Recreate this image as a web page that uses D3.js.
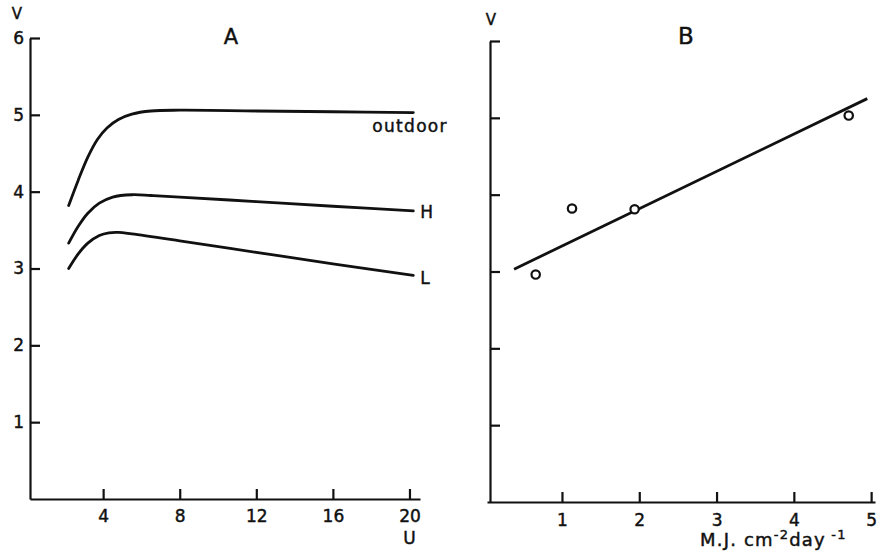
<!DOCTYPE html>
<html><head><meta charset="utf-8">
<script src="https://cdn.jsdelivr.net/npm/d3@7"></script>
<style>
html,body{margin:0;padding:0;background:#fff;}
svg text{font-family:"DejaVu Sans","Liberation Sans",sans-serif;fill:#111;stroke:#111;stroke-width:0.45px;}
</style></head>
<body><svg id="c" width="882" height="551"></svg>
<script>
// ---- Data (panel A: V vs U) ----
const outdoorU = [2.2, 2.7, 3.2, 3.7, 4.2, 4.8, 5.5, 6.5, 8, 12, 16, 20.2];
const outdoorV = [3.82, 4.15, 4.45, 4.68, 4.83, 4.94, 5.01, 5.05, 5.06, 5.05, 5.04, 5.03];
const hU = [2.2, 2.7, 3.2, 3.8, 4.5, 5.5, 6.5, 8, 12, 16, 20.2];
const hV = [3.33, 3.55, 3.72, 3.85, 3.93, 3.96, 3.95, 3.93, 3.87, 3.81, 3.75];
const lU = [2.2, 2.7, 3.2, 3.8, 4.3, 4.8, 5.5, 8, 12, 16, 20.2];
const lV = [3.0, 3.19, 3.33, 3.43, 3.465, 3.47, 3.45, 3.36, 3.21, 3.06, 2.91];
const seriesNames = ["outdoor", "H", "L"];
// ---- Data (panel B: V vs radiation) ----
const radX = [0.66, 1.13, 1.94, 4.71];
const radV = [2.96, 3.82, 3.81, 5.03];
const fitX = [0.38, 4.95];
const fitV = [3.03, 5.25];
// ---- Tick labels ----
const aYTicks = [1, 2, 3, 4, 5, 6];
const aXTicks = [4, 8, 12, 16, 20];
const bYTicks = [1, 2, 3, 4, 5, 6];
const bXTicks = [1, 2, 3, 4, 5];

const svg = d3.select("#c");
const ink = "#111";

// ---- Panel A ----
const xA = d3.scaleLinear().domain([0.18, 20.55]).range([30, 420]);
const yA = d3.scaleLinear().domain([0, 6]).range([499, 38]);

const axA_y = svg.append("g").attr("transform", `translate(${xA(0.18)},0)`)
  .call(d3.axisLeft(yA).tickValues(aYTicks).tickSizeInner(-10).tickSizeOuter(0).tickPadding(6).tickFormat(d3.format("d")));
const axA_x = svg.append("g").attr("transform", `translate(0,${yA(0)})`)
  .call(d3.axisBottom(xA).tickValues(aXTicks).tickSizeInner(-10).tickSizeOuter(0).tickPadding(11).tickFormat(d3.format("d")));

// ---- Panel B ----
const xB = d3.scaleLinear().domain([0.03, 5.05]).range([487, 875]);
const yB = d3.scaleLinear().domain([0, 6]).range([502, 41]);
const bxAxisX = 490;
const axB_y = svg.append("g").attr("transform", `translate(${bxAxisX},0)`)
  .call(d3.axisLeft(yB).tickValues(bYTicks).tickSizeInner(-10).tickSizeOuter(0).tickFormat(""));
const axB_x = svg.append("g").attr("transform", `translate(0,${yB(0)})`)
  .call(d3.axisBottom(xB).tickValues(bXTicks).tickSizeInner(-10).tickSizeOuter(0).tickPadding(12).tickFormat(d3.format("d")));

[axA_y, axA_x, axB_y, axB_x].forEach(g => {
  g.select(".domain").attr("stroke", ink).attr("stroke-width", 2.2);
  g.selectAll(".tick line").attr("stroke", ink).attr("stroke-width", 2.2);
  g.selectAll(".tick text").attr("font-size", 17).attr("fill", ink);
});

// ---- Curves in A ----
const line = d3.line().x(d => xA(d[0])).y(d => yA(d[1])).curve(d3.curveCatmullRom.alpha(0.5));
const series = [
  d3.zip(outdoorU, outdoorV),
  d3.zip(hU, hV),
  d3.zip(lU, lV)
];
svg.append("g").selectAll("path").data(series).join("path")
  .attr("d", line).attr("fill", "none").attr("stroke", ink)
  .attr("stroke-width", 2.8).attr("stroke-linecap", "round");

// series labels
svg.append("text").attr("x", xA(outdoorU[outdoorU.length-1]) - 41).attr("y", yA(outdoorV[outdoorV.length-1]) + 19)
  .attr("font-size", 17).attr("letter-spacing", 1.3).text(seriesNames[0]);
svg.append("text").attr("x", xA(hU[hU.length-1]) + 7).attr("y", yA(hV[hV.length-1]) + 7)
  .attr("font-size", 17).text(seriesNames[1]);
svg.append("text").attr("x", xA(lU[lU.length-1]) + 7).attr("y", yA(lV[lV.length-1]) + 9)
  .attr("font-size", 17).text(seriesNames[2]);

// ---- B fit line & points ----
const lineB = d3.line().x(d => xB(d[0])).y(d => yB(d[1]));
svg.append("path").datum(d3.zip(fitX, fitV)).attr("d", lineB)
  .attr("fill", "none").attr("stroke", ink).attr("stroke-width", 2.8);
svg.append("g").selectAll("circle").data(d3.zip(radX, radV)).join("circle")
  .attr("cx", d => xB(d[0])).attr("cy", d => yB(d[1])).attr("r", 4.2)
  .attr("fill", "#fff").attr("stroke", ink).attr("stroke-width", 2.2);

// ---- Titles and axis labels ----
svg.append("text").attr("x", 231).attr("y", 44).attr("text-anchor", "middle").attr("font-size", 21).text("A");
svg.append("text").attr("x", 686).attr("y", 44).attr("text-anchor", "middle").attr("font-size", 23).text("B");
svg.append("text").attr("x", 17).attr("y", 19).attr("text-anchor", "middle").attr("font-size", 15).text("V");
svg.append("text").attr("x", 491).attr("y", 25).attr("text-anchor", "middle").attr("font-size", 15).text("V");
svg.append("text").attr("x", xA(20)).attr("y", 544).attr("text-anchor", "middle").attr("font-size", 17).text("U");

const unit = svg.append("text").attr("x", 700).attr("y", 546).attr("font-size", 18).attr("letter-spacing", 1.2);
unit.append("tspan").text("M.J. cm");
unit.append("tspan").attr("dy", -7).attr("font-size", 13).text("-2");
unit.append("tspan").attr("dy", 7).text("day");
unit.append("tspan").attr("dy", -7).attr("font-size", 13).text(" -1");
</script></body></html>
